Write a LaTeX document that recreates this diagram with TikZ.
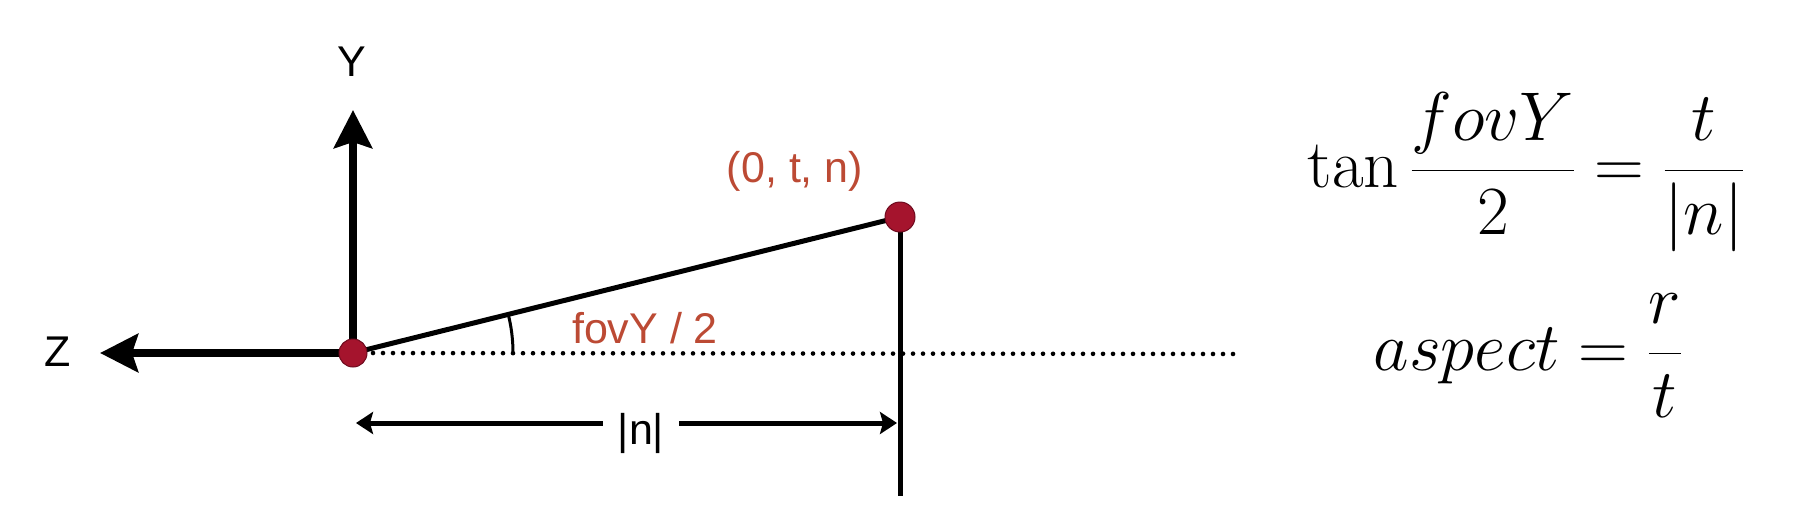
\documentclass[tikz,border=0pt]{standalone}
\usepackage{fix-cm}
\usepackage{fontspec}
\setsansfont{Liberation Sans}
\usetikzlibrary{arrows.meta,calc}
\definecolor{lbl}{RGB}{188,74,52}
\definecolor{dotred}{RGB}{165,20,45}
\definecolor{dotedge}{RGB}{110,10,30}
\begin{document}
\begin{tikzpicture}[x=1pt,y=-1pt,
  axis/.style={line width=8pt,-{Stealth[length=38pt,width=38pt,inset=6pt]}},
  dimarrow/.style={line width=5pt,-{Stealth[length=17pt,width=22pt,inset=3pt]}},
  lab/.style={font=\sffamily\fontsize{43}{50}\selectfont},
  redlab/.style={lab,text=lbl},
  eq/.style={font=\fontsize{69}{82}\selectfont, anchor=base},
  pt/.style={circle,fill=dotred,draw=dotedge,line width=1pt,inner sep=0pt,minimum size=28pt},
]
\useasboundingbox (0,0) rectangle (1799,520);
\coordinate (O) at (353,353);
\coordinate (Ytip) at (353,110);
\coordinate (Ztip) at (100,353);
\coordinate (P) at (900,217);
\coordinate (B) at (900,496);
\coordinate (D) at (1238,354);
\coordinate (L) at (356,423);
\coordinate (R) at (897,423);

\draw[line width=4.6pt, line cap=round, dash pattern=on 0pt off 10pt] (O) -- (D);
\draw[line width=5pt] (P) -- (B);
\draw[line width=5pt] (O) -- (P);
\draw[axis] (O) -- (Ytip);
\draw[axis] (O) -- (Ztip);
\draw[line width=3pt] (O) ++(160,0) arc[start angle=0,end angle=-13.9,radius=160];

\node[pt] (Odot) at (O) {};
\node[pt,minimum size=30pt] (Pdot) at (P) {};

\node[lab] (ylab) at (352,62) {Y};
\node[lab] (zlab) at (58,352) {Z};
\node[redlab] (ptlab) at (795,171) {(0, t, n)};
\node[redlab] (anglab) at (645,328) {fovY / 2};
\node[lab, inner xsep=15pt] (nlab) at (641,433) {|n|};
\draw[dimarrow] (nlab.west |- L) -- (L);
\draw[dimarrow] (nlab.east |- R) -- (R);

\node[eq] (eq1) at (1526,187) {$\displaystyle \tan\frac{fovY}{2}=\frac{t}{|n|}$};
\node[eq] (eq2) at (1528,370) {$\displaystyle aspect=\frac{r}{t}$};
\end{tikzpicture}
\end{document}
